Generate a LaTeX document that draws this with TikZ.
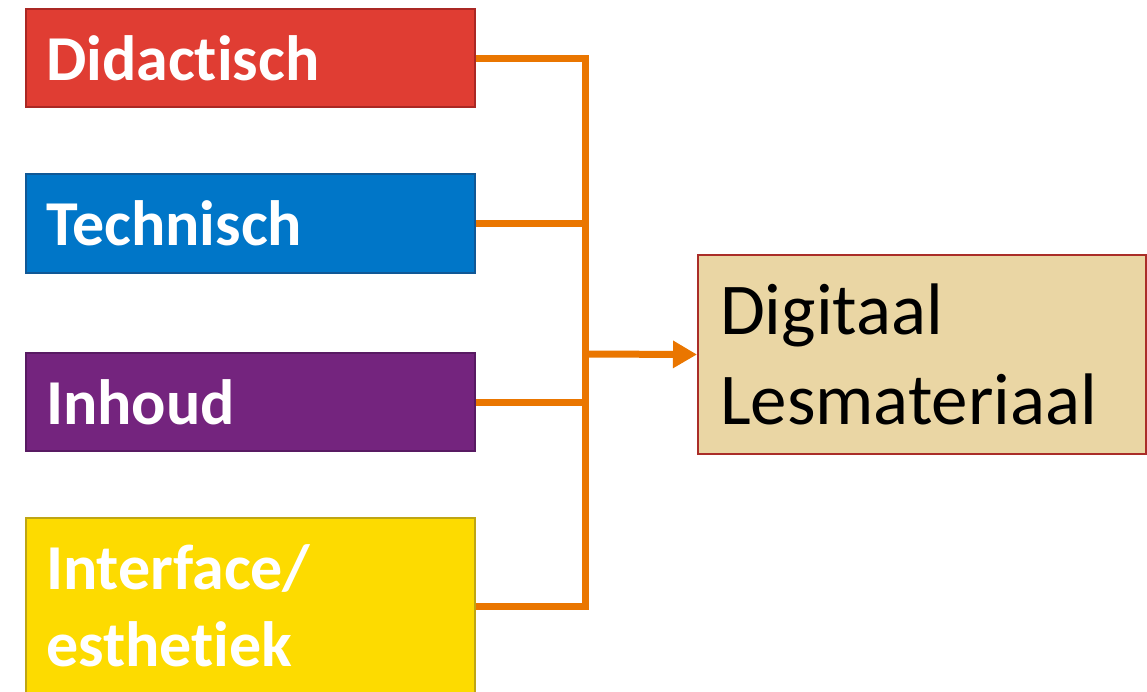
\documentclass[tikz,border=0pt]{standalone}
\usepackage{fontspec}
\setmainfont{Carlito}[Ligatures=NoCommon]
\usetikzlibrary{positioning, arrows.meta}

\definecolor{didred}{RGB}{224,61,51}
\definecolor{didedge}{RGB}{170,40,36}
\definecolor{tecblue}{RGB}{0,118,200}
\definecolor{tecedge}{RGB}{16,88,150}
\definecolor{inhpurple}{RGB}{116,36,126}
\definecolor{inhedge}{RGB}{88,26,98}
\definecolor{intyellow}{RGB}{253,219,0}
\definecolor{intedge}{RGB}{190,165,20}
\definecolor{parchment}{RGB}{234,214,164}
\definecolor{parchedge}{RGB}{170,45,40}
\definecolor{feedorange}{RGB}{234,118,0}

\begin{document}
\begin{tikzpicture}[
    x=1pt, y=-1pt,
    aspect/.style={draw, line width=2pt, anchor=north west,
        minimum width=449pt, minimum height=98pt,
        inner xsep=20pt, text width=409pt, align=left,
        text=white, font=\fontsize{64}{77}\selectfont\bfseries},
    result/.style={draw=parchedge, fill=parchment, line width=2pt, anchor=north west,
        minimum width=448pt, minimum height=199pt,
        inner xsep=22pt, text width=404pt, align=left,
        font=\fontsize{73}{90}\selectfont},
    feed/.style={draw=feedorange, line width=7pt}
]
\useasboundingbox (0,0) rectangle (1147,691);

% Aspects on the left
\node[aspect, fill=didred, draw=didedge] (did) at (25,8) {Didactisch};
\node[aspect, fill=tecblue, draw=tecedge, minimum height=99pt] (tec) at (25,173) {Technisch};
\node[aspect, fill=inhpurple, draw=inhedge] (inh) at (25,352) {Inhoud};
\node[aspect, fill=intyellow, draw=intedge, minimum height=176pt] (int) at (25,517)
    {Interface/\\esthetiek};

% Result on the right
\node[result] (dig) at (697,254) {Digitaal\\Lesmateriaal};

% Connectors
\coordinate (join) at (585,354);
\draw[feed] (did.east) -| (join);
\draw[feed] (int.east) -| (join);
\draw[feed] (tec.east) -- (tec.east -| join);
\draw[feed] (inh.east) -- (inh.east -| join);
\draw[feed, -{Triangle[length=24pt, width=26pt]}] (join) -- (dig.west);

\end{tikzpicture}
\end{document}
